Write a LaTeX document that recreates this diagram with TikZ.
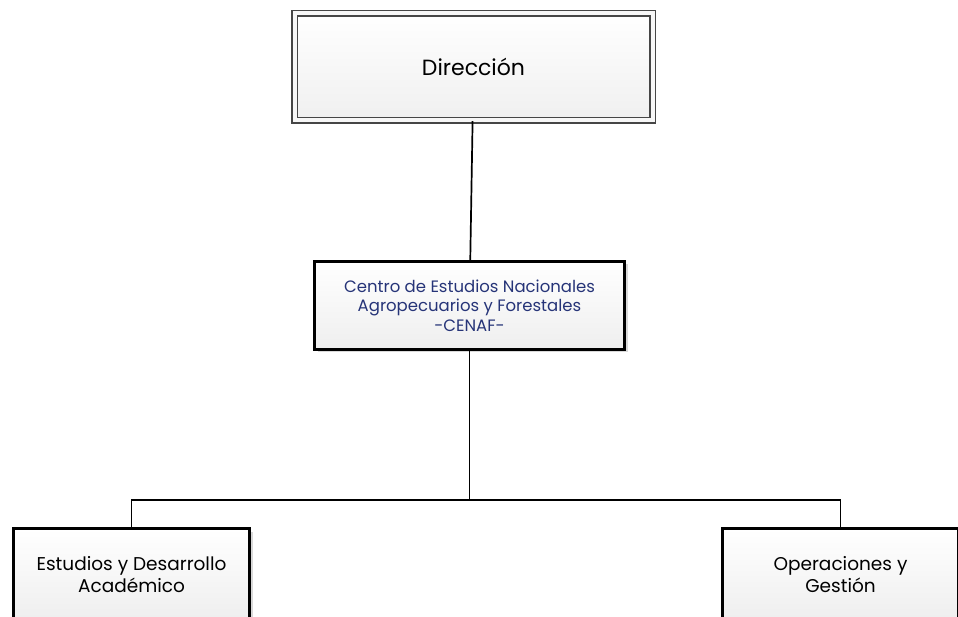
\documentclass[tikz,border=0pt]{standalone}
\usepackage{fontspec}
\setmainfont{Poppins}
\usetikzlibrary{positioning,shadows}
\definecolor{azul}{RGB}{38,52,120}

\begin{document}
\begin{tikzpicture}[x=1pt, y=-1pt,
  caja/.style={rectangle, draw=black, line width=2.6pt, inner sep=0pt,
    top color=white, bottom color=gray!13, align=center,
    drop shadow={shadow xshift=3pt, shadow yshift=-3pt, opacity=0.3}},
  doble/.style={rectangle, draw=gray!55!black, line width=1.1pt, double=gray!6,
    double distance=4pt, inner sep=0pt, top color=white, bottom color=gray!12,
    drop shadow={shadow xshift=3pt, shadow yshift=-3pt, opacity=0.3}},
  e/.style={line width=1.7pt}
]
\useasboundingbox (0,0) rectangle (958,617);
\clip (0,0) rectangle (958,617);

% --- jerarquia ---
\node[doble, minimum width=358pt, minimum height=107pt,
  font=\fontsize{22}{26}\selectfont] (dir) at (473.5,67) {Dirección};

\node[caja, minimum width=310pt, minimum height=88pt, text=azul,
  font=\fontsize{16.5}{19.5}\selectfont] (cenaf) at (469.5,305.5)
  {Centro de Estudios Nacionales\\Agropecuarios y Forestales\\-CENAF-};

% --- unidades (cortadas por el borde) ---
\node[caja, minimum width=236pt, minimum height=92pt,
  font=\fontsize{18.5}{22}\selectfont] (estudios) at (131.5,574.5)
  {Estudios y Desarrollo\\Académico};
\node[caja, minimum width=236pt, minimum height=92pt,
  font=\fontsize{18.5}{22}\selectfont] (operaciones) at (840.5,574.5)
  {Operaciones y\\Gestión};

% --- conectores ---
\coordinate (bus) at (469.5,500);
\draw[e] (dir) -- (cenaf);
\draw[e] (cenaf) -- (bus);
\draw[e] (estudios.north) |- (bus) -| (operaciones.north);

\end{tikzpicture}
\end{document}
